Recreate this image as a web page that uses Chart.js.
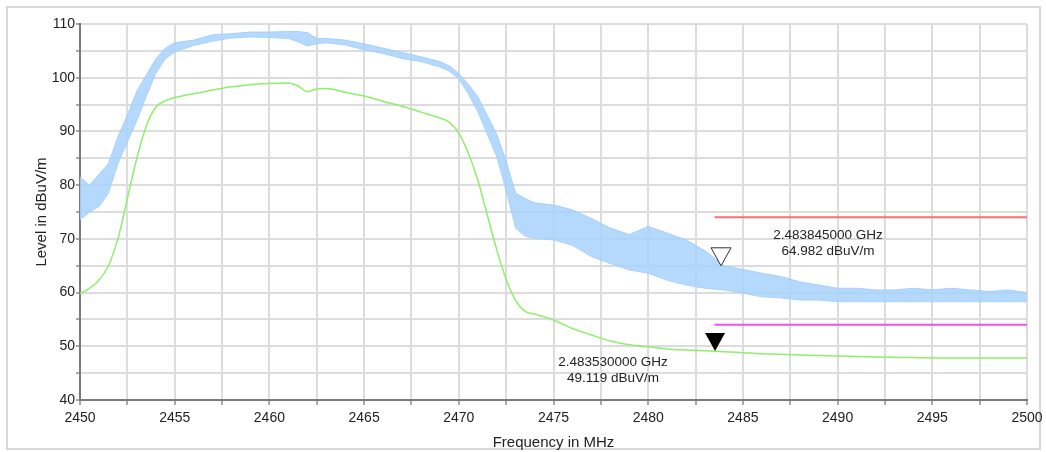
<!DOCTYPE html>
<html>
<head>
<meta charset="utf-8">
<script src="https://cdn.jsdelivr.net/npm/chart.js@4/dist/chart.umd.min.js"></script>
<style>
  html, body { margin: 0; padding: 0; background: #fff; }
  #wrap { width: 1046px; height: 452px; }
</style>
</head>
<body>
<div id="wrap"><canvas id="specChart" width="1046" height="452"></canvas></div>
<script>
// peak trace (max hold) - read as upper / lower edge of the noise band
var peakFreq = [2450, 2450.5, 2451, 2451.5, 2452, 2452.5, 2453, 2453.5, 2454, 2454.5,
  2455, 2456, 2457, 2458, 2459, 2460, 2461, 2461.5, 2462, 2462.5,
  2463, 2464, 2465, 2466, 2467, 2468, 2469, 2469.5, 2470, 2470.5,
  2471, 2471.5, 2472, 2472.5, 2473, 2473.5, 2474, 2475, 2476, 2477,
  2478, 2479, 2480, 2481, 2482, 2483, 2484, 2485, 2486, 2487,
  2488, 2489, 2490, 2491, 2492, 2493, 2494, 2495, 2496, 2497,
  2498, 2499, 2500];
var peakHigh = [81.5, 80, 82, 84, 89, 93, 97.5, 100.5, 103.5, 105.5,
  106.5, 107, 108, 108.2, 108.5, 108.5, 108.6, 108.6, 108.4, 107.3,
  107.3, 107, 106.3, 105.5, 104.7, 103.9, 103, 102.2, 100.8, 98.8,
  96.5, 93, 89.5, 84.5, 78.5, 77.5, 76.7, 76.3, 75.4, 73.8,
  72, 70.8, 72.3, 71.1, 69.8, 67.8, 65, 64.3, 63.6, 63,
  62, 61.4, 60.8, 60.8, 60.5, 60.5, 60.8, 60.5, 60.8, 60.5,
  60.2, 60.5, 60];
var peakLow = [73.5, 75, 76, 78.5, 84, 88, 92, 96.5, 100.8, 103.5,
  104.8, 106, 106.8, 107.4, 107.6, 107.5, 107.3, 106.7, 105.9, 106.3,
  106.5, 106.1, 105.2, 104.5, 103.6, 103, 102, 101.2, 99.8, 97,
  93.7, 89.5, 85.3, 79, 72, 70.5, 70.1, 69.8, 68.8, 66.7,
  65.4, 64.2, 63.6, 62.3, 61.4, 60.8, 60.5, 59.9, 59.2, 59,
  58.6, 58.6, 58.3, 58.3, 58.3, 58.3, 58.3, 58.3, 58.3, 58.3,
  58.3, 58.3, 58.3];

// average trace
var avgFreq = [2450, 2450.5, 2451, 2451.5, 2452, 2452.5, 2453, 2453.5, 2454, 2454.5,
  2455, 2455.5, 2456, 2457, 2458, 2459, 2460, 2461, 2461.5, 2462,
  2462.5, 2463, 2464, 2465, 2466, 2467, 2468, 2469, 2469.5, 2470,
  2470.5, 2471, 2471.5, 2472, 2472.5, 2473, 2473.5, 2474, 2475, 2476,
  2477, 2478, 2479, 2480, 2481, 2482, 2483, 2484, 2485, 2486,
  2488, 2490, 2492, 2494, 2496, 2498, 2500];
var avgLevel = [59.8, 60.8, 62.3, 65, 70, 77.5, 85, 91, 94.5, 95.7,
  96.3, 96.7, 97, 97.7, 98.3, 98.7, 98.9, 99, 98.5, 97.4,
  97.9, 98, 97.3, 96.6, 95.6, 94.7, 93.6, 92.5, 91.7, 89.7,
  86, 81, 74.5, 68, 62.5, 58.5, 56.5, 56, 54.9, 53.3,
  52.1, 51, 50.3, 49.9, 49.5, 49.3, 49.15, 49, 48.8, 48.6,
  48.4, 48.2, 48, 47.9, 47.8, 47.8, 47.8];

// limit lines
var limitFreq = [2483.5, 2500];
var limitPeak = [74, 74];
var limitAvg = [54, 54];

// markers
var markerFreq = [2483.845, 2483.53];
var markerLevel = [64.982, 49.119];
var markerText = [["2.483845000 GHz", "64.982 dBuV/m"], ["2.483530000 GHz", "49.119 dBuV/m"]];

function pts(xs, ys) {
  return xs.map(function (x, i) { return { x: x, y: ys[i] }; });
}

var FONT = "'Liberation Sans', Arial, sans-serif";

var decor = {
  id: 'decor',
  beforeDraw: function (chart) {
    var c = chart.ctx;
    c.save();
    c.fillStyle = '#fff';
    c.fillRect(0, 0, chart.width, chart.height);
    c.strokeStyle = '#d8d8d8';
    c.lineWidth = 2;
    c.strokeRect(7, 7, 1033, 442);
    c.restore();
  },
  afterDraw: function (chart) {
    var c = chart.ctx, xs = chart.scales.x, ys = chart.scales.y;
    c.save();
    // marker 1 : open triangle (peak)
    var px = xs.getPixelForValue(markerFreq[0]), py = ys.getPixelForValue(markerLevel[0]);
    c.beginPath();
    c.moveTo(px - 10, py - 18); c.lineTo(px + 10, py - 18); c.lineTo(px, py); c.closePath();
    c.fillStyle = '#fff'; c.fill();
    c.strokeStyle = '#333'; c.lineWidth = 1; c.stroke();
    c.fillStyle = '#222';
    c.font = '13.5px ' + FONT;
    c.textAlign = 'center'; c.textBaseline = 'middle';
    c.fillText(markerText[0][0], px + 107, py - 31);
    c.fillText(markerText[0][1], px + 107, py - 15);
    // marker 2 : filled triangle (average)
    px = xs.getPixelForValue(markerFreq[1]); py = ys.getPixelForValue(markerLevel[1]);
    c.beginPath();
    c.moveTo(px - 10, py - 18); c.lineTo(px + 10, py - 18); c.lineTo(px, py); c.closePath();
    c.fillStyle = '#000'; c.fill();
    c.fillStyle = '#222';
    c.fillText(markerText[1][0], px - 102, py + 11);
    c.fillText(markerText[1][1], px - 102, py + 27);
    // axis titles
    c.font = '15px ' + FONT;
    c.fillText('Frequency in MHz', (chart.chartArea.left + chart.chartArea.right) / 2, 443);
    c.translate(42, 212);
    c.rotate(-Math.PI / 2);
    c.fillText('Level in dBuV/m', 0, 0);
    c.restore();
  }
};

var ctx = document.getElementById('specChart').getContext('2d');
var chart = new Chart(ctx, {
  type: 'line',
  data: {
    datasets: [
      {
        data: pts(peakFreq, peakHigh),
        borderColor: 'rgba(160,205,252,0.9)', backgroundColor: 'rgba(168,210,253,0.85)',
        borderWidth: 1, pointRadius: 0, tension: 0, fill: '+1'
      },
      {
        data: pts(peakFreq, peakLow),
        borderColor: 'rgba(160,205,252,0.9)', borderWidth: 1, pointRadius: 0, tension: 0, fill: false
      },
      {
        data: pts(avgFreq, avgLevel),
        borderColor: '#90ee6c', borderWidth: 1.5, pointRadius: 0,
        cubicInterpolationMode: 'monotone', fill: false
      },
      {
        data: pts(limitFreq, limitPeak),
        borderColor: '#f77070', borderWidth: 2, pointRadius: 0, fill: false
      },
      {
        data: pts(limitFreq, limitAvg),
        borderColor: '#f050f0', borderWidth: 2, pointRadius: 0, fill: false
      }
    ]
  },
  options: {
    responsive: false,
    animation: false,
    devicePixelRatio: 1,
    layout: { padding: { top: 24, right: 19, left: 0, bottom: 0 } },
    plugins: { legend: { display: false }, tooltip: { enabled: false } },
    scales: {
      x: {
        type: 'linear', min: 2450, max: 2500,
        afterFit: function (s) { s.height = 52; s.paddingLeft = 0; s.paddingRight = 0; },
        ticks: {
          stepSize: 2.5, autoSkip: false, maxRotation: 0, padding: 5,
          color: '#222', font: { size: 14, family: FONT },
          callback: function (v) { return v % 5 === 0 ? v : ''; }
        },
        grid: { color: '#dcdcdc', lineWidth: 2, tickColor: '#555', tickLength: 5, tickWidth: 1 },
        border: { color: '#7a7a7a', width: 2 }
      },
      y: {
        min: 40, max: 110,
        afterFit: function (s) { s.width = 80; s.paddingTop = 0; s.paddingBottom = 0; },
        ticks: {
          stepSize: 5, autoSkip: false, padding: 1,
          color: '#222', font: { size: 14, family: FONT },
          callback: function (v) { return v % 10 === 0 ? v : ''; }
        },
        grid: { color: '#dcdcdc', lineWidth: 2, tickColor: '#555', tickLength: 4, tickWidth: 1 },
        border: { color: '#7a7a7a', width: 2 }
      }
    }
  },
  plugins: [decor]
});
</script>
</body>
</html>
